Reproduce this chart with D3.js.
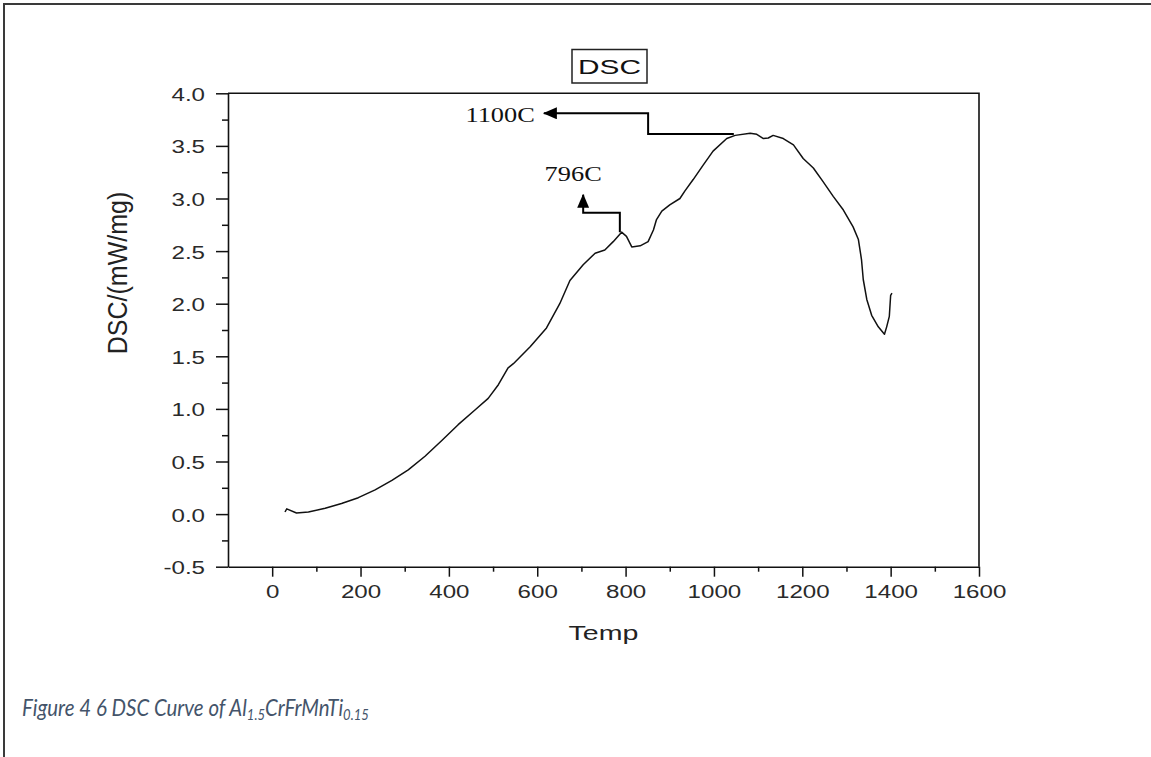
<!DOCTYPE html>
<html>
<head>
<meta charset="utf-8">
<script src="https://cdn.jsdelivr.net/npm/d3@7"></script>
<style>
  html, body { margin: 0; padding: 0; background: #fff; }
  svg { display: block; }
</style>
</head>
<body>
<div id="chart"></div>
<script>
// ---- Data ----
const temps = [29, 33, 55, 82, 120, 157, 195, 233, 271, 308, 346, 384, 421, 459, 489, 512, 534, 546, 584, 621, 651, 674, 704, 731, 753, 772, 791, 802, 814, 833, 851, 863, 870, 882, 900, 923, 934, 953, 976, 998, 1029, 1048, 1082, 1097, 1112, 1123, 1134, 1157, 1180, 1202, 1225, 1247, 1270, 1293, 1315, 1327, 1334, 1338, 1346, 1357, 1372, 1386, 1391, 1397, 1400, 1403];
const dscValues = [0.02, 0.05, 0.01, 0.02, 0.055, 0.10, 0.156, 0.23, 0.32, 0.42, 0.55, 0.70, 0.85, 0.99, 1.10, 1.23, 1.39, 1.43, 1.59, 1.77, 2.00, 2.22, 2.37, 2.48, 2.51, 2.59, 2.68, 2.64, 2.54, 2.55, 2.59, 2.70, 2.80, 2.88, 2.94, 3.00, 3.07, 3.18, 3.32, 3.45, 3.57, 3.60, 3.62, 3.61, 3.57, 3.575, 3.60, 3.57, 3.51, 3.38, 3.29, 3.16, 3.02, 2.89, 2.73, 2.61, 2.42, 2.23, 2.04, 1.89, 1.78, 1.71, 1.78, 1.88, 2.08, 2.10];

const xTickValues = [0, 200, 400, 600, 800, 1000, 1200, 1400, 1600];
const xMinorValues = [100, 300, 500, 700, 900, 1100, 1300, 1500];
const yTickValues = [-0.5, 0.0, 0.5, 1.0, 1.5, 2.0, 2.5, 3.0, 3.5, 4.0];
const yMinorValues = [-0.25, 0.25, 0.75, 1.25, 1.75, 2.25, 2.75, 3.25, 3.75];

const chartTitle = "DSC";
const xTitle = "Temp";
const yTitle = "DSC/(mW/mg)";

// annotation leader lines (data units) and their labels
const ann796Path = [[787, 2.68], [787, 2.865], [704, 2.865], [704, 3.035]];
const ann796Label = "796C";
const ann1100Path = [[1045, 3.613], [851, 3.613], [851, 3.81], [615, 3.81]];
const ann1100Label = "1100C";

// ---- Layout ----
const W = 1151, H = 757;
const plot = { left: 228, right: 979, top: 93.3, bottom: 566.7 };
const SX = 1.27; // horizontal stretch of the original text

const svg = d3.select("#chart").append("svg")
  .attr("width", W).attr("height", H)
  .style("background", "#fff");

const x = d3.scaleLinear().domain([-100, 1600]).range([plot.left, plot.right]);
const y = d3.scaleLinear().domain([-0.5, 4.0]).range([plot.bottom, plot.top]);

// Outer page border
svg.append("path")
  .attr("d", `M4,${H} V4 H${W}`)
  .attr("fill", "none").attr("stroke", "#3a3a3a").attr("stroke-width", 2);

// Plot frame (top + right)
svg.append("path")
  .attr("d", `M${plot.left},${plot.top} H${plot.right} V${plot.bottom}`)
  .attr("fill", "none").attr("stroke", "#111").attr("stroke-width", 1.6);

// X axis
const xAxisG = svg.append("g")
  .attr("transform", `translate(0,${plot.bottom})`)
  .call(d3.axisBottom(x).tickValues(xTickValues).tickSize(10).tickSizeOuter(0).tickFormat(d3.format("d")));
svg.append("g")
  .attr("transform", `translate(0,${plot.bottom})`)
  .call(d3.axisBottom(x).tickValues(xMinorValues).tickSize(5).tickSizeOuter(0).tickFormat(""))
  .call(g => g.select(".domain").remove());

// Y axis
const yAxisG = svg.append("g")
  .attr("transform", `translate(${plot.left},0)`)
  .call(d3.axisLeft(y).tickValues(yTickValues).tickSize(12).tickSizeOuter(0).tickFormat(d => d.toFixed(1)));
svg.append("g")
  .attr("transform", `translate(${plot.left},0)`)
  .call(d3.axisLeft(y).tickValues(yMinorValues).tickSize(6).tickSizeOuter(0).tickFormat(""))
  .call(g => g.select(".domain").remove());

svg.selectAll(".domain").attr("stroke", "#111").attr("stroke-width", 1.6);
svg.selectAll(".tick line").attr("stroke", "#111").attr("stroke-width", 1.5);

xAxisG.selectAll(".tick text")
  .attr("y", null).attr("dy", null)
  .attr("transform", `translate(0,31.5) scale(${SX},1)`)
  .attr("font-family", "Liberation Sans, Arial, sans-serif")
  .attr("font-size", 19).attr("fill", "#2a2a2a");

yAxisG.selectAll(".tick text")
  .attr("x", null).attr("dy", null)
  .attr("transform", `translate(-23,7) scale(${SX},1)`)
  .attr("font-family", "Liberation Sans, Arial, sans-serif")
  .attr("font-size", 19).attr("fill", "#2a2a2a");

// Axis titles
svg.append("text")
  .attr("transform", `translate(${(plot.left + plot.right) / 2},640) scale(1.36,1)`)
  .attr("text-anchor", "middle")
  .attr("font-family", "Liberation Sans, Arial, sans-serif")
  .attr("font-size", 21).attr("fill", "#222")
  .text(xTitle);

svg.append("text")
  .attr("transform", `translate(127,273) rotate(-90) scale(1,1.12)`)
  .attr("text-anchor", "middle")
  .attr("font-family", "Liberation Sans, Arial, sans-serif")
  .attr("font-size", 25).attr("fill", "#222")
  .text(yTitle);

// Chart title with box
const titleG = svg.append("g");
titleG.append("rect")
  .attr("x", 572).attr("y", 49.5).attr("width", 75).attr("height", 33.5)
  .attr("fill", "#fff").attr("stroke", "#222").attr("stroke-width", 1.5);
titleG.append("text")
  .attr("transform", `translate(609.5,74) scale(1.42,1)`)
  .attr("text-anchor", "middle")
  .attr("font-family", "Liberation Sans, Arial, sans-serif")
  .attr("font-size", 21).attr("fill", "#111")
  .text(chartTitle);

// Data line
const line = d3.line()
  .x((d, i) => x(temps[i]))
  .y((d, i) => y(dscValues[i]));
svg.append("path")
  .datum(dscValues)
  .attr("d", line)
  .attr("fill", "none").attr("stroke", "#111").attr("stroke-width", 1.5)
  .attr("stroke-linejoin", "round");

// Annotations
const defs = svg.append("defs");
defs.append("marker")
  .attr("id", "arrow")
  .attr("viewBox", "0 0 14 12")
  .attr("refX", 13).attr("refY", 6)
  .attr("markerWidth", 14).attr("markerHeight", 12)
  .attr("markerUnits", "userSpaceOnUse")
  .attr("orient", "auto")
  .append("path").attr("d", "M0,0 L14,6 L0,12 Z").attr("fill", "#000");

const annLine = d3.line().x(d => x(d[0])).y(d => y(d[1]));
[ann796Path, ann1100Path].forEach(p => {
  svg.append("path")
    .attr("d", annLine(p))
    .attr("fill", "none").attr("stroke", "#000").attr("stroke-width", 2)
    .attr("marker-end", "url(#arrow)");
});

const tip796 = ann796Path[ann796Path.length - 1];
svg.append("text")
  .attr("transform", `translate(${x(tip796[0]) - 10},${y(tip796[1]) - 13.5}) scale(1.32,1)`)
  .attr("text-anchor", "middle")
  .attr("font-family", "Liberation Serif, Times New Roman, serif")
  .attr("font-size", 20).attr("fill", "#111")
  .text(ann796Label);

const tip1100 = ann1100Path[ann1100Path.length - 1];
svg.append("text")
  .attr("transform", `translate(${x(tip1100[0]) - 9},${y(tip1100[1]) + 9}) scale(1.32,1)`)
  .attr("text-anchor", "end")
  .attr("font-family", "Liberation Serif, Times New Roman, serif")
  .attr("font-size", 20).attr("fill", "#111")
  .text(ann1100Label);

// Caption
const cap = svg.append("text")
  .attr("transform", "translate(22,716) scale(0.87,1)")
  .attr("font-family", "Lato, Open Sans, sans-serif")
  .attr("font-style", "italic")
  .attr("font-size", 23.5).attr("fill", "#44546A");
cap.append("tspan").text("Figure 4 6 DSC Curve of Al");
cap.append("tspan").attr("font-size", 15).attr("dy", 4).text("1.5");
cap.append("tspan").attr("dy", -4).text("CrFrMnTi");
cap.append("tspan").attr("font-size", 15).attr("dy", 4).text("0.15");
</script>
</body>
</html>
